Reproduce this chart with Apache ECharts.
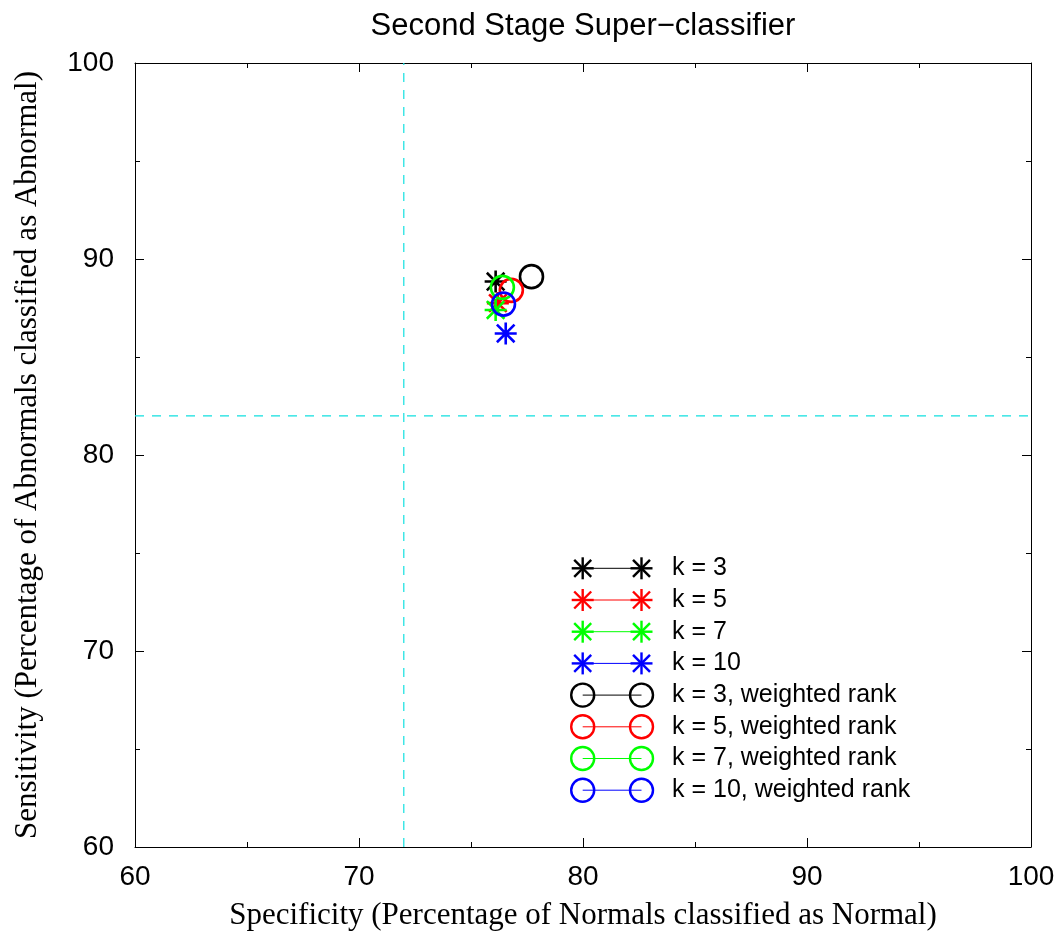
<!DOCTYPE html>
<html>
<head>
<meta charset="utf-8">
<script src="https://cdn.jsdelivr.net/npm/echarts@6/dist/echarts.min.js"></script>
<style>
html,body{margin:0;padding:0;background:#fff;}
#chart{width:1062px;height:936px;}
</style>
</head>
<body>
<div id="chart"></div>
<script>
// ---- data ----
const seriesLabels = ['k = 3', 'k = 5', 'k = 7', 'k = 10',
  'k = 3, weighted rank', 'k = 5, weighted rank', 'k = 7, weighted rank', 'k = 10, weighted rank'];
const seriesColors = ['#000000', '#ff0000', '#00ff00', '#0000ff', '#000000', '#ff0000', '#00ff00', '#0000ff'];
const seriesMarkers = ['star', 'star', 'star', 'star', 'circle', 'circle', 'circle', 'circle'];
// Specificity (x) and Sensitivity (y) per series
const specificity = [76.1, 76.2, 76.1, 76.55, 77.7, 76.8, 76.4, 76.45];
const sensitivity = [88.85, 87.75, 87.4, 86.2, 89.1, 88.4, 88.55, 87.7];
const specThreshold = 72;
const sensThreshold = 82;
const xTicks = [60, 70, 80, 90, 100];
const yTicks = [60, 70, 80, 90, 100];

// ---- styles ----
const SANS = 'Liberation Sans';
const SERIF = 'Liberation Serif';
const starPath = 'path://M0,-10L0,10M-10,0L10,0M-8,-8L8,8M-8,8L8,-8';
const GRID = {left: 135, right: 31, top: 63, bottom: 89};
const REF_COLOR = '#10e0e0';

const chart = echarts.init(document.getElementById('chart'), null, {renderer: 'canvas'});

function axisCommon(showLabels) {
  return {
    min: xTicks[0], max: xTicks[xTicks.length - 1],
    interval: xTicks[1] - xTicks[0],
    axisLine: {show: true, onZero: false, lineStyle: {color: '#000', width: 1}},
    axisTick: {show: true, inside: true, length: 9, lineStyle: {color: '#000', width: 1}},
    minorTick: {show: true, splitNumber: 2, length: 5, lineStyle: {color: '#000', width: 1}},
    splitLine: {show: false},
    axisLabel: {show: showLabels, color: '#000', fontFamily: SANS, fontSize: 28},
  };
}

const scatterSeries = seriesLabels.map((name, i) => ({
  name: name,
  type: 'scatter',
  xAxisIndex: 0, yAxisIndex: 0,
  data: [[specificity[i], sensitivity[i]]],
  symbol: seriesMarkers[i] === 'star' ? starPath : 'circle',
  symbolSize: seriesMarkers[i] === 'star' ? 22 : 23,
  itemStyle: {color: 'rgba(0,0,0,0)', borderColor: seriesColors[i], borderWidth: 2.6, opacity: 1},
  emphasis: {disabled: true},
  z: 5 + i
}));

const refSeries = [
  {
    type: 'line', xAxisIndex: 0, yAxisIndex: 0, silent: true, symbol: 'none',
    data: [[specThreshold, yTicks[0]], [specThreshold, yTicks[yTicks.length - 1]]],
    lineStyle: {color: REF_COLOR, width: 1.2, type: [9, 8]}, z: 2
  },
  {
    type: 'line', xAxisIndex: 0, yAxisIndex: 0, silent: true, symbol: 'none',
    data: [[xTicks[0], sensThreshold], [xTicks[xTicks.length - 1], sensThreshold]],
    lineStyle: {color: REF_COLOR, width: 1.2, type: [9, 8]}, z: 2
  }
];

// ---- custom legend (two markers joined by a line) ----
function starLines(cx, cy, r, d, color) {
  const segs = [[0, -r, 0, r], [-r, 0, r, 0], [-d, -d, d, d], [-d, d, d, -d]];
  return segs.map(s => ({
    type: 'line', silent: true,
    shape: {x1: cx + s[0], y1: cy + s[1], x2: cx + s[2], y2: cy + s[3]},
    style: {stroke: color, lineWidth: 2.4}
  }));
}
const legendX1 = 582.7, legendX2 = 641.5, legendTextX = 672, legendY0 = 568.3, legendDy = 31.7;
const legendEls = [];
seriesLabels.forEach((name, i) => {
  const cy = legendY0 + i * legendDy;
  const c = seriesColors[i];
  legendEls.push({type: 'line', silent: true,
    shape: {x1: legendX1, y1: cy, x2: legendX2, y2: cy},
    style: {stroke: c, lineWidth: 1}});
  [legendX1, legendX2].forEach(cx => {
    if (seriesMarkers[i] === 'star') {
      starLines(cx, cy, 11, 8.5, c).forEach(e => legendEls.push(e));
    } else {
      legendEls.push({type: 'circle', silent: true, shape: {cx: cx, cy: cy, r: 11.5},
        style: {fill: 'none', stroke: c, lineWidth: 2.4}});
    }
  });
  legendEls.push({type: 'text', silent: true, x: legendTextX, y: cy,
    style: {text: name, fontSize: 25, fontFamily: SANS, fill: '#000', verticalAlign: 'middle', align: 'left'}});
});

const option = {
  backgroundColor: '#fff',
  animation: false,
  title: {
    text: 'Second Stage Super\u2212classifier',
    left: 583, top: 11, padding: 0, textAlign: 'center',
    textStyle: {fontFamily: SANS, fontSize: 31, fontWeight: 'normal', color: '#000'}
  },
  grid: {left: GRID.left, right: GRID.right, top: GRID.top, bottom: GRID.bottom, containLabel: false},
  xAxis: [
    Object.assign(axisCommon(true), {
      type: 'value', position: 'bottom',
      name: 'Specificity (Percentage of Normals classified as Normal)',
      nameLocation: 'middle', nameGap: 53,
      nameTextStyle: {fontFamily: SERIF, fontSize: 31, color: '#000'},
      axisLabel: {show: true, color: '#000', fontFamily: SANS, fontSize: 28, margin: 16}
    }),
    Object.assign(axisCommon(false), {type: 'value', position: 'top'})
  ],
  yAxis: [
    Object.assign(axisCommon(true), {
      type: 'value', position: 'left',
      min: yTicks[0], max: yTicks[yTicks.length - 1], interval: yTicks[1] - yTicks[0],
      name: 'Sensitivity (Percentage of Abnormals classified as Abnormal)',
      nameLocation: 'middle', nameGap: 92, nameRotate: 90,
      nameTextStyle: {fontFamily: SERIF, fontSize: 31, color: '#000'},
      axisLabel: {show: true, color: '#000', fontFamily: SANS, fontSize: 28, margin: 21}
    }),
    Object.assign(axisCommon(false), {
      type: 'value', position: 'right',
      min: yTicks[0], max: yTicks[yTicks.length - 1], interval: yTicks[1] - yTicks[0]
    })
  ],
  series: refSeries.concat(scatterSeries),
  graphic: legendEls
};
chart.setOption(option);
</script>
</body>
</html>
